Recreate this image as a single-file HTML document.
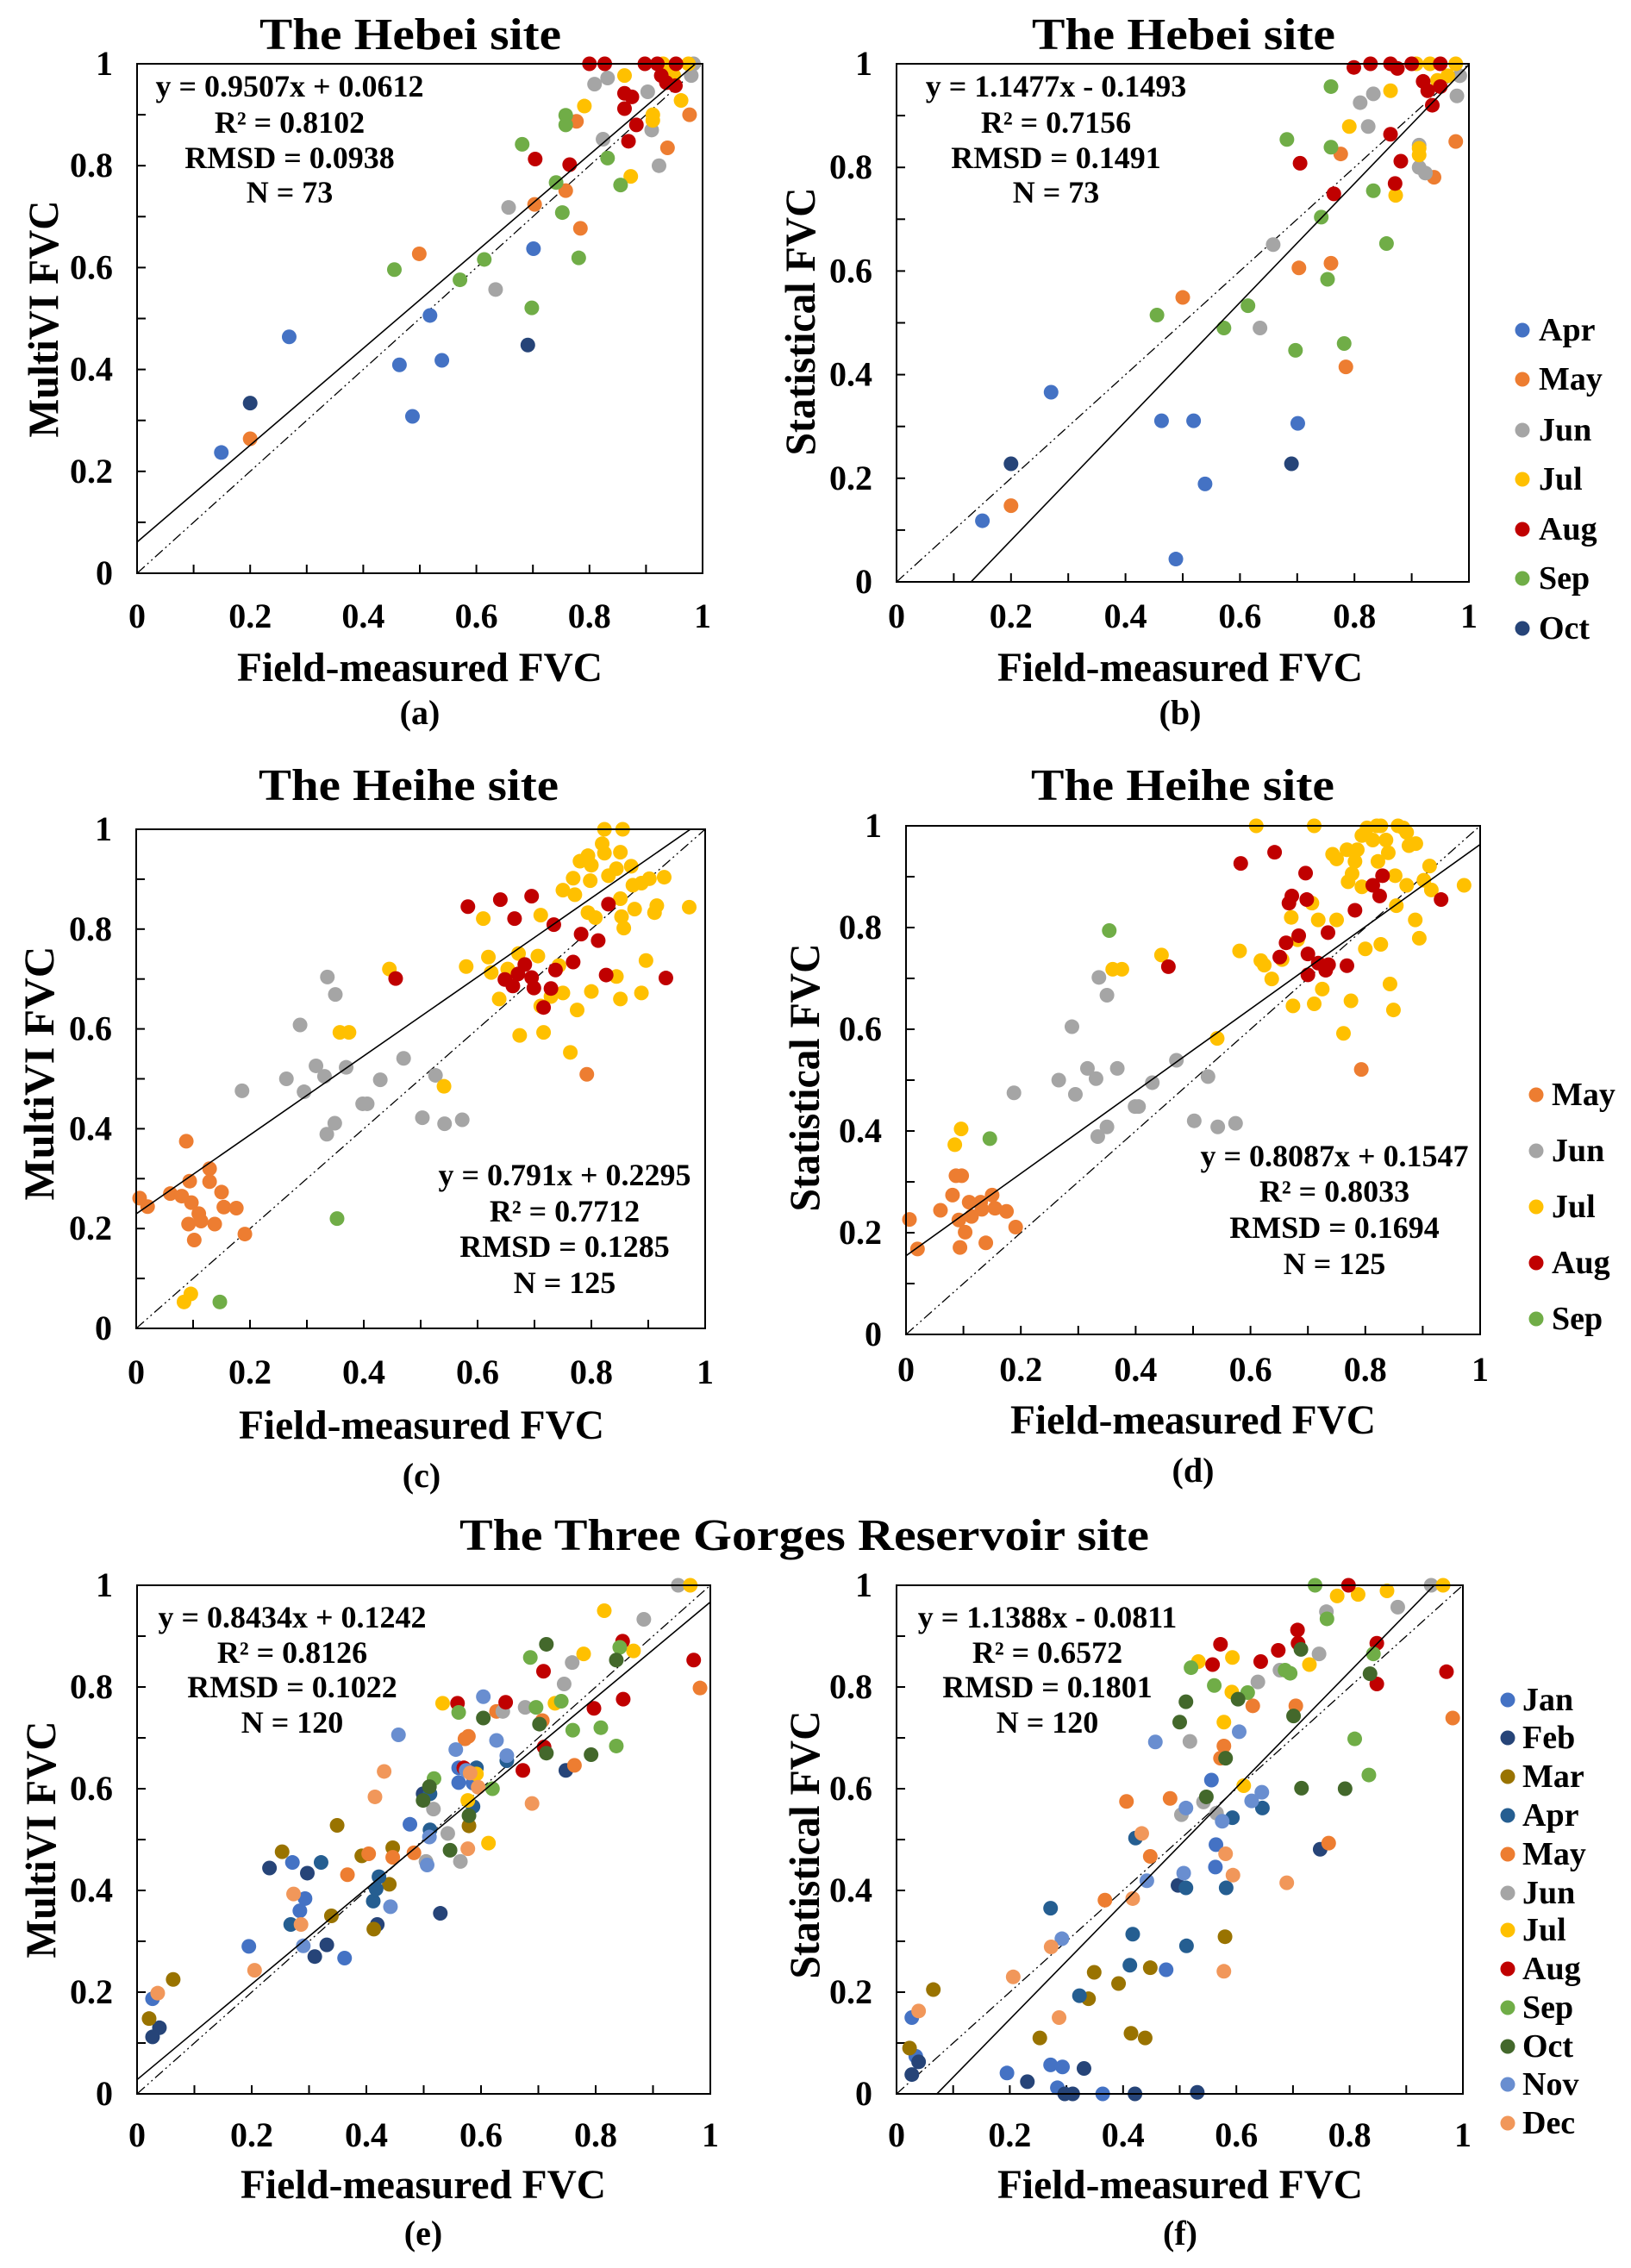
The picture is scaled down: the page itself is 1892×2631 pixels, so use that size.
<!DOCTYPE html>
<html><head><meta charset="utf-8"><style>
html,body{margin:0;padding:0;background:#fff}
svg{display:block;font-family:"Liberation Serif",serif;font-weight:bold}
</style></head><body>
<svg id="fig" xmlns="http://www.w3.org/2000/svg" width="1892" height="2631" viewBox="0 0 1892 2631">
<rect x="0" y="0" width="1892" height="2631" fill="#fff"/>
<text x="476" y="57" font-size="52" text-anchor="middle" textLength="350" lengthAdjust="spacingAndGlyphs">The Hebei site</text>
<text x="1373" y="57" font-size="52" text-anchor="middle" textLength="352" lengthAdjust="spacingAndGlyphs">The Hebei site</text>
<text x="474" y="928" font-size="52" text-anchor="middle" textLength="348" lengthAdjust="spacingAndGlyphs">The Heihe site</text>
<text x="1372" y="928" font-size="52" text-anchor="middle" textLength="352" lengthAdjust="spacingAndGlyphs">The Heihe site</text>
<text x="933" y="1798" font-size="52" text-anchor="middle" textLength="800" lengthAdjust="spacingAndGlyphs">The Three Gorges Reservoir site</text>
</svg>
<script>
// ---------- Panel (a): Hebei MultiVI ----------
const aX=[0.149,0.269,0.464,0.487,0.518,0.539,0.701, 0.2,0.691, 0.2,0.499,0.703,0.758,0.777,0.784,0.938,0.977, 0.634,0.657,0.809,0.832,0.824,0.903,0.91,0.923,0.98,0.984, 0.862,0.791,0.873,0.912,0.912,0.962,0.945,0.93,0.975,0.949, 0.8,0.827,0.898,0.92,0.953,0.927,0.936,0.952,0.862,0.875,0.862,0.883,0.869,0.765,0.704, 0.455,0.571,0.614,0.681,0.698,0.741,0.752,0.758,0.758,0.781,0.832,0.855];
const aY=[0.237,0.464,0.409,0.308,0.506,0.418,0.637, 0.334,0.448, 0.264,0.627,0.724,0.751,0.887,0.677,0.835,0.9, 0.557,0.718,0.96,0.972,0.852,0.945,0.87,0.8,0.977,1.0, 0.977,0.917,0.779,0.9,0.889,0.928,0.988,1,1,0.977, 1,1,1,1,1,0.977,0.963,0.957,0.942,0.935,0.912,0.88,0.848,0.802,0.813, 0.596,0.576,0.616,0.842,0.521,0.767,0.708,0.899,0.88,0.619,0.815,0.762];
const aM=["Apr","Apr","Apr","Apr","Apr","Apr","Apr","Oct","Oct","May","May","May","May","May","May","May","May","Jun","Jun","Jun","Jun","Jun","Jun","Jun","Jun","Jun","Jun","Jul","Jul","Jul","Jul","Jul","Jul","Jul","Jul","Jul","Jul","Aug","Aug","Aug","Aug","Aug","Aug","Aug","Aug","Aug","Aug","Aug","Aug","Aug","Aug","Aug","Sep","Sep","Sep","Sep","Sep","Sep","Sep","Sep","Sep","Sep","Sep","Sep"];
// ---------- Panel (b): Hebei Statistical ----------
const bX=[0.15,0.27,0.463,0.488,0.519,0.539,0.701, 0.2,0.69, 0.2,0.5,0.703,0.759,0.776,0.785,0.939,0.977, 0.635,0.658,0.81,0.833,0.824,0.913,0.913,0.924,0.979,0.984, 0.863,0.791,0.872,0.913,0.913,0.945,0.963,0.908,0.932,0.977, 0.799,0.828,0.863,0.9,0.95,0.875,0.92,0.928,0.95,0.936,0.863,0.881,0.871,0.764,0.705, 0.455,0.572,0.614,0.682,0.697,0.742,0.753,0.759,0.759,0.782,0.833,0.856];
const bY=[0.118,0.366,0.311,0.044,0.311,0.189,0.306, 0.228,0.228, 0.147,0.549,0.606,0.615,0.826,0.415,0.781,0.85, 0.49,0.651,0.925,0.942,0.879,0.843,0.8,0.789,0.938,0.977, 0.948,0.879,0.746,0.837,0.824,0.968,0.977,1,1,1, 0.993,1,1,1,1,0.991,0.966,0.948,0.956,0.92,0.864,0.812,0.769,0.749,0.808, 0.515,0.49,0.533,0.854,0.447,0.704,0.584,0.839,0.956,0.46,0.755,0.653];
const bM=aM.slice();
// ---------- Panel (c): Heihe MultiVI ----------
const cX=[0.006,0.02,0.06,0.08,0.088,0.094,0.097,0.092,0.102,0.11,0.114,0.129,0.129,0.138,0.15,0.154,0.176,0.191,0.792,
0.186,0.264,0.288,0.295,0.316,0.331,0.336,0.35,0.335,0.349,0.369,0.398,0.406,0.429,0.47,0.503,0.526,0.542,0.573,
0.353,0.147,
0.084,0.096,0.358,0.374,0.445,0.541,0.58,0.61,0.619,0.624,0.638,0.653,0.672,0.674,0.706,0.711,0.711,0.716,0.729,0.743,0.75,0.75,0.763,0.768,0.771,0.775,0.78,0.794,0.798,0.8,0.794,0.807,0.8,0.819,0.823,0.823,0.83,0.844,0.844,0.851,0.855,0.851,0.853,0.857,0.851,0.87,0.873,0.876,0.888,0.888,0.896,0.902,0.911,0.915,0.928,0.972,
0.583,0.64,0.665,0.695,0.734,0.782,0.812,0.83,0.456,0.648,0.662,0.671,0.683,0.695,0.699,0.716,0.729,0.737,0.768,0.826,0.931];
const cY=[0.261,0.244,0.27,0.265,0.375,0.295,0.252,0.209,0.177,0.23,0.215,0.32,0.294,0.209,0.273,0.243,0.241,0.189,0.509,
0.476,0.5,0.608,0.474,0.526,0.505,0.704,0.669,0.389,0.411,0.523,0.45,0.45,0.498,0.541,0.422,0.507,0.41,0.418,
0.22,0.053,
0.053,0.069,0.593,0.593,0.72,0.485,0.725,0.821,0.744,0.713,0.66,0.72,0.751,0.587,0.746,0.828,0.646,0.593,0.665,0.727,0.672,0.878,0.553,0.902,0.869,0.638,0.936,0.947,0.897,0.928,0.833,0.823,0.675,0.971,1,0.952,0.907,0.921,0.705,0.954,1,0.861,0.825,0.802,0.66,0.926,0.888,0.84,0.892,0.672,0.737,0.901,0.833,0.847,0.904,0.844,
0.845,0.859,0.821,0.866,0.809,0.79,0.777,0.85,0.701,0.699,0.686,0.71,0.729,0.703,0.682,0.643,0.681,0.718,0.734,0.708,0.702];
const cM=["May","May","May","May","May","May","May","May","May","May","May","May","May","May","May","May","May","May","May",
"Jun","Jun","Jun","Jun","Jun","Jun","Jun","Jun","Jun","Jun","Jun","Jun","Jun","Jun","Jun","Jun","Jun","Jun","Jun",
"Sep","Sep",
"Jul","Jul","Jul","Jul","Jul","Jul","Jul","Jul","Jul","Jul","Jul","Jul","Jul","Jul","Jul","Jul","Jul","Jul","Jul","Jul","Jul","Jul","Jul","Jul","Jul","Jul","Jul","Jul","Jul","Jul","Jul","Jul","Jul","Jul","Jul","Jul","Jul","Jul","Jul","Jul","Jul","Jul","Jul","Jul","Jul","Jul","Jul","Jul","Jul","Jul","Jul","Jul","Jul","Jul","Jul","Jul",
"Aug","Aug","Aug","Aug","Aug","Aug","Aug","Aug","Aug","Aug","Aug","Aug","Aug","Aug","Aug","Aug","Aug","Aug","Aug","Aug","Aug"];
// ---------- Panel (d): Heihe Statistical ----------
const dX=[0.006,0.02,0.06,0.081,0.087,0.097,0.092,0.103,0.094,0.11,0.114,0.13,0.132,0.15,0.155,0.139,0.175,0.191,0.793,
0.085,0.096,0.146,0.354,
0.188,0.266,0.289,0.295,0.316,0.331,0.336,0.35,0.334,0.35,0.368,0.399,0.405,0.429,0.471,0.502,0.526,0.543,0.574,
0.36,0.376,0.445,0.542,
0.61,0.711,0.581,0.618,0.624,0.637,0.655,0.671,0.674,0.682,0.707,0.711,0.718,0.725,0.75,0.743,0.75,0.762,0.768,0.77,0.775,0.777,0.782,0.786,0.794,0.794,0.8,0.803,0.813,0.82,0.827,0.822,0.827,0.836,0.84,0.843,0.849,0.852,0.854,0.857,0.866,0.872,0.872,0.876,0.888,0.887,0.894,0.902,0.912,0.915,0.972,
0.583,0.642,0.696,0.667,0.672,0.698,0.651,0.662,0.684,0.7,0.7,0.718,0.731,0.736,0.735,0.768,0.782,0.813,0.825,0.83,0.932,0.457];
const dY=[0.226,0.168,0.244,0.274,0.312,0.312,0.225,0.201,0.171,0.26,0.232,0.26,0.246,0.274,0.248,0.18,0.242,0.211,0.521,
0.373,0.404,0.385,0.794,
0.475,0.5,0.605,0.472,0.523,0.503,0.702,0.667,0.389,0.408,0.523,0.448,0.448,0.495,0.539,0.42,0.507,0.408,0.415,
0.718,0.718,0.746,0.582,
1,1,0.754,0.735,0.726,0.699,0.737,0.82,0.646,0.776,0.848,0.65,0.815,0.679,0.815,0.944,0.935,0.592,0.953,0.89,0.656,0.906,0.93,0.953,0.981,0.88,0.758,0.996,0.972,1,1,0.93,0.767,0.972,0.947,0.689,0.638,0.902,0.843,1,0.996,0.987,0.883,0.961,0.965,0.815,0.779,0.893,0.921,0.874,0.883,
0.926,0.948,0.907,0.848,0.862,0.855,0.742,0.77,0.784,0.748,0.707,0.73,0.716,0.727,0.79,0.725,0.834,0.883,0.862,0.902,0.855,0.723];
const dM=["May","May","May","May","May","May","May","May","May","May","May","May","May","May","May","May","May","May","May",
"Jul","Jul","Sep","Sep",
"Jun","Jun","Jun","Jun","Jun","Jun","Jun","Jun","Jun","Jun","Jun","Jun","Jun","Jun","Jun","Jun","Jun","Jun","Jun",
"Jul","Jul","Jul","Jul",
"Jul","Jul","Jul","Jul","Jul","Jul","Jul","Jul","Jul","Jul","Jul","Jul","Jul","Jul","Jul","Jul","Jul","Jul","Jul","Jul","Jul","Jul","Jul","Jul","Jul","Jul","Jul","Jul","Jul","Jul","Jul","Jul","Jul","Jul","Jul","Jul","Jul","Jul","Jul","Jul","Jul","Jul","Jul","Jul","Jul","Jul","Jul","Jul","Jul","Jul","Jul",
"Aug","Aug","Aug","Aug","Aug","Aug","Aug","Aug","Aug","Aug","Aug","Aug","Aug","Aug","Aug","Aug","Aug","Aug","Aug","Aug","Aug","Aug"];
// ---------- Panel (e): Three Gorges MultiVI ----------
const eX=[0.027,0.195,0.271,0.284,0.293,0.362,0.476,0.561,0.561,0.586,
0.027,0.039,0.231,0.297,0.31,0.331,0.419,0.499,0.529,0.748,
0.021,0.063,0.253,0.339,0.349,0.392,0.413,0.44,0.446,0.579,
0.268,0.321,0.412,0.417,0.422,0.511,0.511,0.586,0.592,0.645,
0.367,0.404,0.446,0.483,0.572,0.578,0.627,0.707,0.763,0.982,
0.517,0.542,0.564,0.504,0.638,0.677,0.745,0.759,0.884,0.944,
0.533,0.577,0.592,0.613,0.729,0.779,0.815,0.866,0.965,
0.559,0.57,0.643,0.673,0.709,0.71,0.797,0.847,0.848,0.971,
0.518,0.561,0.62,0.686,0.696,0.74,0.76,0.809,0.836,0.842,
0.499,0.51,0.546,0.579,0.604,0.702,0.714,0.714,0.792,0.836,
0.29,0.442,0.456,0.506,0.51,0.556,0.574,0.604,0.627,0.645,
0.036,0.205,0.273,0.286,0.415,0.431,0.577,0.581,0.595,0.689];
const eY=[0.187,0.29,0.455,0.36,0.384,0.267,0.53,0.612,0.641,0.611,
0.112,0.13,0.444,0.434,0.27,0.293,0.333,0.59,0.355,0.636,
0.148,0.225,0.476,0.35,0.528,0.468,0.324,0.412,0.484,0.527,
0.333,0.455,0.379,0.403,0.427,0.519,0.59,0.565,0.641,0.655,
0.431,0.472,0.465,0.474,0.698,0.703,0.752,0.734,0.646,0.798,
0.56,0.512,0.457,0.457,0.752,0.76,0.806,0.848,0.933,1,
0.768,0.577,0.629,0.493,0.768,0.865,0.95,0.871,1,
0.768,0.641,0.77,0.636,0.831,0.682,0.758,0.89,0.776,0.853,
0.62,0.75,0.6,0.858,0.76,0.772,0.715,0.72,0.684,0.878,
0.577,0.604,0.479,0.547,0.739,0.727,0.884,0.67,0.667,0.853,
0.291,0.368,0.706,0.45,0.505,0.677,0.636,0.781,0.695,0.665,
0.198,0.243,0.393,0.333,0.584,0.634,0.482,0.631,0.603,0.571];
const eM=["Jan","Jan","Jan","Jan","Jan","Jan","Jan","Jan","Jan","Jan","Feb","Feb","Feb","Feb","Feb","Feb","Feb","Feb","Feb","Feb","Mar","Mar","Mar","Mar","Mar","Mar","Mar","Mar","Mar","Mar","Apr","Apr","Apr","Apr","Apr","Apr","Apr","Apr","Apr","Apr","May","May","May","May","May","May","May","May","May","May","Jun","Jun","Jun","Jun","Jun","Jun","Jun","Jun","Jun","Jun","Jul","Jul","Jul","Jul","Jul","Jul","Jul","Jul","Jul","Aug","Aug","Aug","Aug","Aug","Aug","Aug","Aug","Aug","Aug","Sep","Sep","Sep","Sep","Sep","Sep","Sep","Sep","Sep","Sep","Oct","Oct","Oct","Oct","Oct","Oct","Oct","Oct","Oct","Oct","Nov","Nov","Nov","Nov","Nov","Nov","Nov","Nov","Nov","Nov","Dec","Dec","Dec","Dec","Dec","Dec","Dec","Dec","Dec","Dec"];
// ---------- Panel (f): Three Gorges Statistical ----------
const fX=[0.027,0.034,0.195,0.272,0.293,0.284,0.364,0.476,0.563,0.564,0.556,
0.027,0.039,0.231,0.297,0.311,0.331,0.421,0.531,0.497,0.748,
0.023,0.065,0.253,0.339,0.349,0.392,0.414,0.448,0.439,0.58,
0.272,0.323,0.412,0.417,0.422,0.511,0.512,0.582,0.593,0.646,
0.368,0.406,0.448,0.483,0.572,0.578,0.629,0.705,0.763,0.982,
0.503,0.542,0.565,0.518,0.638,0.677,0.746,0.759,0.885,0.944,
0.533,0.578,0.592,0.593,0.613,0.729,0.778,0.815,0.866,0.965,
0.558,0.572,0.643,0.674,0.709,0.708,0.798,0.848,0.848,0.971,
0.52,0.561,0.62,0.686,0.695,0.739,0.76,0.809,0.834,0.842,
0.5,0.511,0.547,0.581,0.603,0.701,0.714,0.715,0.792,0.836,
0.292,0.442,0.457,0.507,0.511,0.575,0.605,0.627,0.645,
0.039,0.206,0.273,0.287,0.417,0.433,0.581,0.578,0.594,0.689];
const fY=[0.15,0.074,0.041,0.057,0.053,0.012,0,0.244,0.446,0.49,0.617,
0.038,0.063,0.024,0,0,0.05,0,0.003,0.41,0.481,
0.09,0.205,0.11,0.187,0.239,0.217,0.119,0.248,0.11,0.309,
0.365,0.193,0.253,0.314,0.503,0.405,0.291,0.405,0.543,0.562,
0.381,0.575,0.467,0.581,0.66,0.684,0.763,0.763,0.493,0.739,
0.549,0.574,0.552,0.693,0.81,0.833,0.865,0.948,0.957,1,
0.85,0.731,0.79,0.858,0.606,0.844,0.979,0.982,0.989,1,
0.844,0.884,0.85,0.872,0.886,0.912,1,0.886,0.806,0.83,
0.838,0.803,0.789,0.833,0.827,1,0.934,0.698,0.627,0.865,
0.731,0.771,0.584,0.66,0.776,0.743,0.874,0.601,0.6,0.826,
0.305,0.419,0.692,0.434,0.562,0.536,0.712,0.576,0.593,
0.163,0.23,0.289,0.15,0.384,0.512,0.472,0.241,0.43,0.415];
const fM=["Jan","Jan","Jan","Jan","Jan","Jan","Jan","Jan","Jan","Jan","Jan","Feb","Feb","Feb","Feb","Feb","Feb","Feb","Feb","Feb","Feb","Mar","Mar","Mar","Mar","Mar","Mar","Mar","Mar","Mar","Mar","Apr","Apr","Apr","Apr","Apr","Apr","Apr","Apr","Apr","Apr","May","May","May","May","May","May","May","May","May","May","Jun","Jun","Jun","Jun","Jun","Jun","Jun","Jun","Jun","Jun","Jul","Jul","Jul","Jul","Jul","Jul","Jul","Jul","Jul","Jul","Aug","Aug","Aug","Aug","Aug","Aug","Aug","Aug","Aug","Aug","Sep","Sep","Sep","Sep","Sep","Sep","Sep","Sep","Sep","Sep","Oct","Oct","Oct","Oct","Oct","Oct","Oct","Oct","Oct","Oct","Nov","Nov","Nov","Nov","Nov","Nov","Nov","Nov","Nov","Dec","Dec","Dec","Dec","Dec","Dec","Dec","Dec","Dec","Dec"];
// regression lines [slope, intercept]
const fitA=[0.9507,0.0612], fitB=[1.1477,-0.1493], fitC=[0.791,0.2295], fitD=[0.8087,0.1547], fitE=[0.939,0.028], fitF=[1.1388,-0.0811];
const tickLabels=["0","0.2","0.4","0.6","0.8","1"];
const tickValues=[0,0.2,0.4,0.6,0.8,1];
const hebeiMonths=["Apr","May","Jun","Jul","Aug","Sep","Oct"];
const heiheMonths=["May","Jun","Jul","Aug","Sep"];
const tgMonths=["Jan","Feb","Mar","Apr","May","Jun","Jul","Aug","Sep","Oct","Nov","Dec"];
const statsA=["y = 0.9507x + 0.0612","R² = 0.8102","RMSD = 0.0938","N = 73"];
const statsB=["y = 1.1477x - 0.1493","R² = 0.7156","RMSD = 0.1491","N = 73"];
const statsC=["y = 0.791x + 0.2295","R² = 0.7712","RMSD = 0.1285","N = 125"];
const statsD=["y = 0.8087x + 0.1547","R² = 0.8033","RMSD = 0.1694","N = 125"];
const statsE=["y = 0.8434x + 0.1242","R² = 0.8126","RMSD = 0.1022","N = 120"];
const statsF=["y = 1.1388x - 0.0811","R² = 0.6572","RMSD = 0.1801","N = 120"];

const HEB={Apr:"#4472C4",May:"#ED7D31",Jun:"#A5A5A5",Jul:"#FFC000",Aug:"#C00000",Sep:"#70AD47",Oct:"#264478"};
const TG={Jan:"#4472C4",Feb:"#264478",Mar:"#997300",Apr:"#255E91",May:"#ED7D31",Jun:"#A5A5A5",Jul:"#FFC000",Aug:"#C00000",Sep:"#70AD47",Oct:"#43682B",Nov:"#698ED0",Dec:"#F1975A"};
const NS="http://www.w3.org/2000/svg";
const svg=document.getElementById("fig");
function mk(tag,attrs,parent){const e=document.createElementNS(NS,tag);for(const k in attrs)e.setAttribute(k,attrs[k]);(parent||svg).appendChild(e);return e;}

const panels=[
 {id:"a",x0:159,x1:815,y0:665,y1:74,X:aX,Y:aY,M:aM,pal:HEB,fit:fitA,stats:statsA,sx:336,sy:[112,154,195,235],ylab:"MultiVI FVC",ylx:67,yly:370,yll:275,xt:728,xlab:790,xlc:487,cap:"(a)",capy:840},
 {id:"b",x0:1040,x1:1704,y0:675,y1:74,X:bX,Y:bY,M:bM,pal:HEB,fit:fitB,stats:statsB,sx:1225,sy:[112,154,195,235],ylab:"Statistical FVC",ylx:945,yly:373,yll:311,xt:728,xlab:790,xlc:1369,cap:"(b)",capy:840},
 {id:"c",x0:158,x1:818,y0:1541,y1:962,X:cX,Y:cY,M:cM,pal:HEB,fit:fitC,stats:statsC,sx:655,sy:[1375,1417,1458,1500],ylab:"MultiVI FVC",ylx:62,yly:1245,yll:295,xt:1605,xlab:1669,xlc:489,cap:"(c)",capy:1725},
 {id:"d",x0:1051,x1:1717,y0:1548,y1:958,X:dX,Y:dY,M:dM,pal:HEB,fit:fitD,stats:statsD,sx:1548,sy:[1353,1394,1436,1478],ylab:"Statistical FVC",ylx:950,yly:1250,yll:311,xt:1602,xlab:1663,xlc:1384,cap:"(d)",capy:1719},
 {id:"e",x0:159,x1:824,y0:2429,y1:1839,X:eX,Y:eY,M:eM,pal:TG,fit:fitE,stats:statsE,sx:339,sy:[1888,1929,1969,2010],ylab:"MultiVI FVC",ylx:64,yly:2134,yll:275,xt:2490,xlab:2550,xlc:491,cap:"(e)",capy:2604},
 {id:"f",x0:1040,x1:1697,y0:2429,y1:1839,X:fX,Y:fY,M:fM,pal:TG,fit:fitF,stats:statsF,sx:1215,sy:[1888,1929,1969,2010],ylab:"Statistical FVC",ylx:950,yly:2140,yll:311,xt:2490,xlab:2550,xlc:1369,cap:"(f)",capy:2604}
];

panels.forEach(p=>{
 const sx=v=>p.x0+v*(p.x1-p.x0), sy=v=>p.y0-v*(p.y0-p.y1);
 const g=mk("g",{});
 
 
 const cp=mk("clipPath",{id:"clip"+p.id},g);
 mk("rect",{x:p.x0,y:p.y1,width:p.x1-p.x0,height:p.y0-p.y1},cp);
 for(let i=0;i<=10;i++){
  const v=i/10;
  mk("line",{x1:sx(v),x2:sx(v),y1:p.y0,y2:p.y0-10,stroke:"#000","stroke-width":2},g);
  mk("line",{x1:p.x0,x2:p.x0+10,y1:sy(v),y2:sy(v),stroke:"#000","stroke-width":2},g);
 }
 tickValues.forEach((v,i)=>{
  const tx=mk("text",{x:sx(v),y:p.xt,"font-size":40,"text-anchor":"middle"},g);tx.textContent=tickLabels[i];
  
  
  const ty=mk("text",{x:p.x0-28,y:sy(v)+13,"font-size":40,"text-anchor":"end"},g);ty.textContent=tickLabels[i];
  
  
 });
 const one=mk("line",{x1:sx(0),y1:sy(0),x2:sx(1),y2:sy(1),stroke:"#000","stroke-width":1.3,"stroke-dasharray":"12 4 2 4 2 4","clip-path":"url(#clip"+p.id+")"},g);
 
 
 p.X.forEach((x,i)=>{
  const c=mk("circle",{cx:sx(x),cy:sy(p.Y[i]),r:8.5,fill:p.pal[p.M[i]]},g);
  
  
 });
 const fl=mk("line",{x1:sx(-0.2),y1:sy(p.fit[0]*-0.2+p.fit[1]),x2:sx(1.2),y2:sy(p.fit[0]*1.2+p.fit[1]),stroke:"#000","stroke-width":1.6,"clip-path":"url(#clip"+p.id+")"},g);
 
 
 const fr=mk("rect",{x:p.x0,y:p.y1,width:p.x1-p.x0,height:p.y0-p.y1,fill:"none",stroke:"#000","stroke-width":2},g);
 
 
 p.stats.forEach((s,i)=>{
  const t=mk("text",{x:p.sx,y:p.sy[i],"font-size":36,"text-anchor":"middle"},g);t.textContent=s;
  
  
 });
 const xl=mk("text",{x:p.xlc,y:p.xlab,"font-size":48,"text-anchor":"middle",textLength:424,lengthAdjust:"spacingAndGlyphs"},g);xl.textContent="Field-measured FVC";
 
 
 const yl=mk("text",{x:0,y:0,"font-size":50,"text-anchor":"middle",textLength:p.yll,lengthAdjust:"spacingAndGlyphs",transform:"translate("+p.ylx+","+p.yly+") rotate(-90)"},g);yl.textContent=p.ylab;
 
 
 const cap=mk("text",{x:p.xlc,y:p.capy,"font-size":40,"text-anchor":"middle"},g);cap.textContent=p.cap;
 
 
});

function legend(months,pal,dx,tx,rows,name){
 const g=mk("g",{});
 
 
 months.forEach((m,i)=>{
  const c=mk("circle",{cx:dx,cy:rows[i]-12,r:8.5,fill:pal[m]},g);
  
  
  const t=mk("text",{x:tx,y:rows[i],"font-size":38},g);t.textContent=m;
  
  
 });
}
legend(hebeiMonths,HEB,1766,1785,[395,452,511,568,626,683,741],"legend-hebei");
legend(heiheMonths,HEB,1782,1800,[1282,1347,1412,1477,1542],"legend-heihe");
legend(tgMonths,TG,1749,1766,[1984,2028,2073,2118,2163,2208,2251,2296,2341,2386,2430,2475],"legend-three-gorges");
</script>
</body></html>
